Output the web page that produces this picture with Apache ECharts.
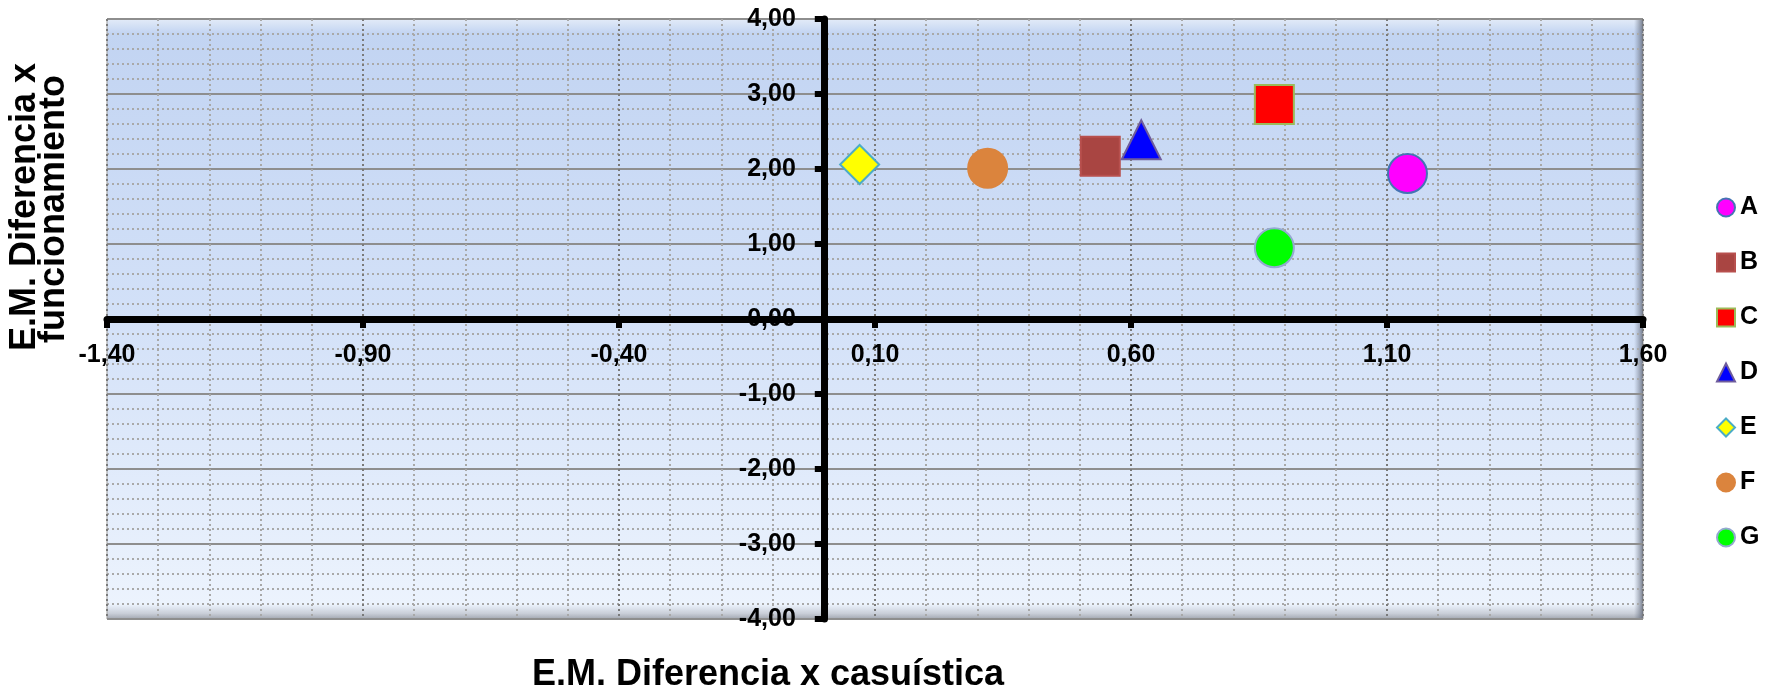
<!DOCTYPE html>
<html>
<head>
<meta charset="utf-8">
<title>E.M. Diferencia</title>
<script src="https://cdn.jsdelivr.net/npm/echarts@6/dist/echarts.min.js"></script>
<style>
  html, body { margin: 0; padding: 0; background: #ffffff; }
  #chart { width: 1773px; height: 692px; }
</style>
</head>
<body>
<div id="chart"></div>
<script>
// Series names and their (casuística, funcionamiento) coordinates
const categories = ['A', 'B', 'C', 'D', 'E', 'F', 'G'];
const xValues = [1.14, 0.54, 0.88, 0.62, 0.07, 0.32, 0.88];
const yValues = [1.94, 2.17, 2.86, 2.39, 2.06, 2.01, 0.95];

// Marker look for each series
const symbols = ['circle', 'rect', 'rect', 'triangle', 'diamond', 'circle', 'circle'];
const fillColors = ['#FF00FF', '#A94542', '#FF0000', '#0000FF', '#FFFF00', '#DB843D', '#00FF00'];
const borderColors = ['#4474B4', '#B8504E', '#9BBB59', '#6E5C9C', '#4BACC6', '#DB843D', '#93A9D0'];

// Tick labels of both axes
const xTickValues = [-1.40, -0.90, -0.40, 0.10, 0.60, 1.10, 1.60];
const yTickValues = [-4, -3, -2, -1, 0, 1, 2, 3, 4];

const FONT = '"Liberation Sans", Arial, sans-serif';
const fmt = v => (Math.abs(v) < 1e-9 ? 0 : v).toFixed(2).replace('.', ',');

const GRID_LEFT = 107, GRID_RIGHT = 130, GRID_TOP = 19, GRID_BOTTOM = 73;

const xRange = {
  type: 'value',
  min: xTickValues[0],
  max: xTickValues[xTickValues.length - 1],
  interval: xTickValues[1] - xTickValues[0]
};
const yRange = {
  type: 'value',
  min: yTickValues[0],
  max: yTickValues[yTickValues.length - 1],
  interval: yTickValues[1] - yTickValues[0]
};

const chart = echarts.init(document.getElementById('chart'), null, { renderer: 'canvas' });

const series = categories.map((name, i) => ({
  name: name,
  type: 'scatter',
  symbol: symbols[i],
  symbolSize: 39,
  data: [[xValues[i], yValues[i]]],
  itemStyle: {
    color: fillColors[i],
    borderColor: borderColors[i],
    borderWidth: 2,
    opacity: 1
  },
  emphasis: { disabled: true },
  z: 10
}));

const labelStyle = {
  fontFamily: FONT,
  fontSize: 25,
  fontWeight: 'bold',
  color: '#000000',
  formatter: fmt,
  showMinLabel: true,
  showMaxLabel: true
};

const hiddenParts = {
  axisLine: { show: false },
  axisTick: { show: false },
  axisLabel: { show: false },
  minorTick: { show: false, splitNumber: 5 }
};

const option = {
  animation: false,
  backgroundColor: '#ffffff',
  grid: {
    left: GRID_LEFT,
    right: GRID_RIGHT,
    top: GRID_TOP,
    bottom: GRID_BOTTOM,
    show: true,
    borderColor: '#9c9c9c',
    borderWidth: 1,
    backgroundColor: {
      type: 'linear', x: 0, y: 0, x2: 0, y2: 1,
      colorStops: [
        { offset: 0.0, color: '#e4ecf8' },
        { offset: 0.025, color: '#c2d4f2' },
        { offset: 0.5, color: '#d3e1f8' },
        { offset: 0.975, color: '#ecf3fd' },
        { offset: 0.99, color: '#c9ced8' },
        { offset: 1.0, color: '#9ea3ad' }
      ]
    }
  },
  legend: {
    orient: 'vertical',
    left: 1711,
    top: 190,
    itemWidth: 18,
    itemHeight: 18,
    itemGap: 30,
    selectedMode: false,
    data: categories,
    textStyle: {
      fontFamily: FONT,
      fontSize: 25,
      fontWeight: 'bold',
      color: '#000000',
      lineHeight: 18
    }
  },
  xAxis: [
    // Axis line, ticks and labels, moved onto y = 0 below
    Object.assign({}, xRange, {
      position: 'bottom',
      axisLine: { show: true, onZero: false, lineStyle: { color: '#000000', width: 7 } },
      axisTick: { show: true, inside: false, length: 9, lineStyle: { color: '#000000', width: 6 } },
      axisLabel: Object.assign({ margin: 24 }, labelStyle),
      splitLine: { show: false },
      z: 7
    }),
    // Vertical grid lines
    Object.assign({}, xRange, hiddenParts, {
      position: 'top',
      splitLine: { show: true, lineStyle: { color: '#7a7a7a', width: 2, type: [2, 3] } },
      minorSplitLine: { show: true, lineStyle: { color: '#a8a8a8', width: 2, type: [2, 3] } },
      z: 1
    })
  ],
  yAxis: [
    // Axis line, ticks and labels, moved onto x = 0 below
    Object.assign({}, yRange, {
      position: 'left',
      axisLine: { show: true, onZero: false, lineStyle: { color: '#000000', width: 7 } },
      axisTick: { show: true, inside: false, length: 9, lineStyle: { color: '#000000', width: 6 } },
      axisLabel: Object.assign({ margin: 28 }, labelStyle),
      splitLine: { show: false },
      z: 6
    }),
    // Horizontal grid lines
    Object.assign({}, yRange, hiddenParts, {
      position: 'right',
      splitLine: { show: true, lineStyle: { color: '#8e8e8e', width: 2, type: 'solid' } },
      minorSplitLine: { show: true, lineStyle: { color: '#a9a9a9', width: 2, type: [2, 3] } },
      z: 1
    })
  ],
  graphic: [
    {
      id: 'xTitle',
      type: 'text',
      x: 768, y: 675,
      silent: true,
      style: {
        text: 'E.M. Diferencia x casuística',
        font: 'bold 36px ' + FONT,
        fill: '#000000',
        align: 'center',
        verticalAlign: 'middle'
      }
    },
    {
      id: 'yTitle1',
      type: 'text',
      x: 25, y: 207,
      rotation: Math.PI / 2,
      silent: true,
      style: {
        text: 'E.M. Diferencia x',
        font: 'bold 36px ' + FONT,
        fill: '#000000',
        align: 'center',
        verticalAlign: 'middle'
      }
    },
    {
      id: 'yTitle2',
      type: 'text',
      x: 54, y: 209,
      rotation: Math.PI / 2,
      silent: true,
      style: {
        text: 'funcionamiento',
        font: 'bold 36px ' + FONT,
        fill: '#000000',
        align: 'center',
        verticalAlign: 'middle'
      }
    }
  ],
  series: series
};

chart.setOption(option);

// Move both axes so they cross at the origin, and shade the right edge of the frame
const x0 = chart.convertToPixel({ xAxisIndex: 0 }, 0);
const y0 = chart.convertToPixel({ yAxisIndex: 0 }, 0);
const xRight = chart.convertToPixel({ xAxisIndex: 0 }, xTickValues[xTickValues.length - 1]);
const yTop = chart.convertToPixel({ yAxisIndex: 0 }, yTickValues[yTickValues.length - 1]);
const yBottom = chart.convertToPixel({ yAxisIndex: 0 }, yTickValues[0]);
const xLeft = chart.convertToPixel({ xAxisIndex: 0 }, xTickValues[0]);

chart.setOption({
  xAxis: [{ offset: -(yBottom - y0) }],
  yAxis: [{ offset: -(x0 - xLeft) }],
  graphic: [
    {
      id: 'rightBevel',
      type: 'rect',
      silent: true,
      z: 1,
      shape: { x: xRight - 9, y: yTop, width: 9, height: yBottom - yTop },
      style: {
        fill: {
          type: 'linear', x: 0, y: 0, x2: 1, y2: 0,
          colorStops: [
            { offset: 0, color: 'rgba(120,130,150,0)' },
            { offset: 1, color: 'rgba(100,106,120,0.85)' }
          ]
        }
      }
    }
  ]
});
</script>
</body>
</html>
